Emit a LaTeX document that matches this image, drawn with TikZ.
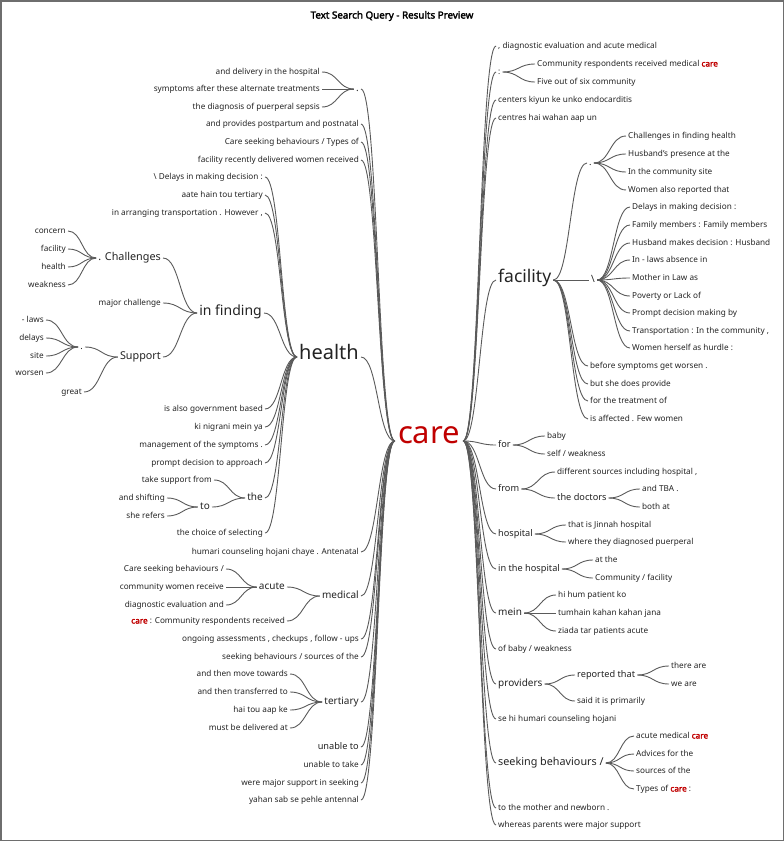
\documentclass[tikz,border=0pt]{standalone}
\usepackage{fontspec}
\setmainfont{Noto Sans}[AutoFakeBold=2.5]
\usetikzlibrary{calc}

\definecolor{linegray}{RGB}{90,90,90}
\definecolor{txtgray}{RGB}{35,35,35}
\definecolor{carered}{RGB}{192,0,0}
\definecolor{framegray}{RGB}{110,110,110}

\newcommand{\hit}{\textcolor{carered}{\textbf{care}}}

\tikzset{
	wt/.style={inner sep=2pt, text height=.7em, text depth=.2em, text=txtgray},
	leaf/.style={wt, font=\fontsize{8.2}{9}\selectfont},
	w9/.style={wt, font=\fontsize{9.2}{10}\selectfont},
	w10/.style={wt, font=\fontsize{10}{11}\selectfont},
	w11/.style={wt, font=\fontsize{10.8}{12}\selectfont},
	w14/.style={wt, font=\fontsize{14}{16}\selectfont},
	w17/.style={wt, font=\fontsize{17.5}{19}\selectfont},
	w20/.style={wt, font=\fontsize{20}{22}\selectfont},
	root/.style={wt, inner sep=3pt, font=\fontsize{31}{34}\selectfont, text=carered},
	headline/.style={font=\bfseries\fontsize{9.8}{11}\selectfont, text=black},
	link/.style={draw=linegray, line width=.9pt,
		to path={let \p1=(\tikztostart), \p2=(\tikztotarget) in
			.. controls ({(\x1+\x2)/2},\y1) and ({(\x1+\x2)/2},\y2) .. (\tikztotarget)}},
}

\begin{document}
\begin{tikzpicture}[x=1pt, y=-1pt]
	
	\useasboundingbox (0,0) rectangle (784,841);
	\draw[framegray, line width=1.5pt] (0.75,0.75) rectangle (783.25,840.25);
	\node[headline] (head) at (392,16) {Text Search Query - Results Preview};
	
	% root word
	\node[root] (care) at (429,441) {care};
	
	% ---- left of care ----
	\node[w10, anchor=east] (dotA) at (361,89) {.};
	\draw[link] (dotA.east) to (care.west);
	\foreach \y/\t [count=\i] in {72/and delivery in the hospital, 89/symptoms after these alternate treatments, 107/the diagnosis of puerperal sepsis}
	{
		\node[leaf, anchor=east] (dotA\i) at (322,\y) {\t};
		\draw[link] (dotA\i.east) to (dotA.west);
	}
	
	\foreach \y/\t [count=\i] in {124/and provides postpartum and postnatal, 142/{Care seeking behaviours / Types of}, 160/facility recently delivered women received, 552/humari counseling hojani chaye . Antenatal, 639/{ongoing assessments , checkups , follow - ups}, 657/{seeking behaviours / sources of the}, 765/unable to take, 783/were major support in seeking, 800/yahan sab se pehle antennal}
	{
		\node[leaf, anchor=east] (cl\i) at (361,\y) {\t};
		\draw[link] (cl\i.east) to (care.west);
	}
	\node[w9, anchor=east] (unable) at (361,747) {unable to};
	\draw[link] (unable.east) to (care.west);
	
	% health
	\node[w20, anchor=east] (health) at (361,357) {health};
	\draw[link] (health.east) to (care.west);
	\foreach \y/\t [count=\i] in {177/{\textbackslash{} Delays in making decision :}, 195/aate hain tou tertiary, 213/{in arranging transportation . However ,}, 409/is also government based, 427/ki nigrani mein ya, 445/management of the symptoms ., 463/prompt decision to approach, 533/the choice of selecting}
	{
		\node[leaf, anchor=east] (hl\i) at (265,\y) {\t};
		\draw[link] (hl\i.east) to (health.west);
	}
	
	\node[w14, anchor=east] (infind) at (264,313) {in finding};
	\draw[link] (infind.east) to (health.west);
	\node[w11, anchor=east] (chall) at (163,258) {. Challenges};
	\node[leaf, anchor=east] (major) at (163,303) {major challenge};
	\node[w11, anchor=east] (support) at (163,357) {Support};
	\foreach \n in {chall, major, support}
	\draw[link] (\n.east) to (infind.west);
	\foreach \y/\t [count=\i] in {231/concern, 249/facility, 267/health, 285/weakness}
	{
		\node[leaf, anchor=east] (ch\i) at (68,\y) {\t};
		\draw[link] (ch\i.east) to (chall.west);
	}
	\node[w9, anchor=east] (dotB) at (85,347) {.};
	\node[leaf, anchor=east] (great) at (84,392) {great};
	\draw[link] (dotB.east) to (support.west);
	\draw[link] (great.east) to (support.west);
	\foreach \y/\t [count=\i] in {320/- laws, 338/delays, 356/site, 373/worsen}
	{
		\node[leaf, anchor=east] (sp\i) at (46,\y) {\t};
		\draw[link] (sp\i.east) to (dotB.west);
	}
	
	\node[w10, anchor=east] (the) at (265,498) {the};
	\draw[link] (the.east) to (health.west);
	\node[leaf, anchor=east] (takesup) at (214,480) {take support from};
	\node[w10, anchor=east] (wto) at (212,507) {to};
	\draw[link] (takesup.east) to (the.west);
	\draw[link] (wto.east) to (the.west);
	\node[leaf, anchor=east] (shift) at (167,498) {and shifting};
	\node[leaf, anchor=east] (refers) at (167,516) {she refers};
	\draw[link] (shift.east) to (wto.west);
	\draw[link] (refers.east) to (wto.west);
	
	% medical
	\node[w10, anchor=east] (medical) at (361,596) {medical};
	\draw[link] (medical.east) to (care.west);
	\node[w10, anchor=east] (acute) at (287,587) {acute};
	\node[leaf, anchor=east] (crc) at (287,621) {\hit{} : Community respondents received};
	\draw[link] (acute.east) to (medical.west);
	\draw[link] (crc.east) to (medical.west);
	\foreach \y/\t [count=\i] in {569/{Care seeking behaviours /}, 587/community women receive, 605/diagnostic evaluation and}
	{
		\node[leaf, anchor=east] (ac\i) at (226,\y) {\t};
		\draw[link] (ac\i.east) to (acute.west);
	}
	
	% tertiary
	\node[w10, anchor=east] (tertiary) at (361,702) {tertiary};
	\draw[link] (tertiary.east) to (care.west);
	\foreach \y/\t [count=\i] in {674/and then move towards, 692/and then transferred to, 710/hai tou aap ke, 728/must be delivered at}
	{
		\node[leaf, anchor=east] (te\i) at (290,\y) {\t};
		\draw[link] (te\i.east) to (tertiary.west);
	}
	
	% ---- right of care ----
	\foreach \y/\t [count=\i] in {46/{, diagnostic evaluation and acute medical}, 100/centers kiyun ke unko endocarditis, 118/centres hai wahan aap un, 649/{of baby / weakness}, 719/se hi humari counseling hojani, 808/to the mother and newborn ., 825/whereas parents were major support}
	{
		\node[leaf, anchor=west] (cr\i) at (496,\y) {\t};
		\draw[link] (care.east) to (cr\i.west);
	}
	
	\node[leaf, anchor=west] (colon) at (496,72) {:};
	\draw[link] (care.east) to (colon.west);
	\node[leaf, anchor=west] (co1) at (535,64) {Community respondents received medical \hit};
	\node[leaf, anchor=west] (co2) at (535,82) {Five out of six community};
	\draw[link] (colon.east) to (co1.west);
	\draw[link] (colon.east) to (co2.west);
	
	% facility
	\node[w17, anchor=west] (facility) at (496,280) {facility};
	\draw[link] (care.east) to (facility.west);
	\node[w9, anchor=west] (dotC) at (587,163) {.};
	\draw[link] (facility.east) to (dotC.west);
	\foreach \y/\t [count=\i] in {136/Challenges in finding health, 154/Husband's presence at the, 172/In the community site, 190/Women also reported that}
	{
		\node[leaf, anchor=west] (dc\i) at (626,\y) {\t};
		\draw[link] (dotC.east) to (dc\i.west);
	}
	\node[w10, anchor=west] (bslash) at (589,280) {\textbackslash};
	\draw[link] (facility.east) to (bslash.west);
	\foreach \y/\t [count=\i] in {207/Delays in making decision :, 225/Family members : Family members, 243/Husband makes decision : Husband, 260/In - laws absence in, 278/Mother in Law as, 296/Poverty or Lack of, 313/Prompt decision making by, 331/{Transportation : In the community ,}, 348/Women herself as hurdle :}
	{
		\node[leaf, anchor=west] (bs\i) at (630,\y) {\t};
		\draw[link] (bslash.east) to (bs\i.west);
	}
	\foreach \y/\t [count=\i] in {366/before symptoms get worsen ., 384/but she does provide, 401/for the treatment of, 419/is affected . Few women}
	{
		\node[leaf, anchor=west] (fa\i) at (588,\y) {\t};
		\draw[link] (facility.east) to (fa\i.west);
	}
	
	% for, from
	\node[w9, anchor=west] (for) at (496,445) {for};
	\draw[link] (care.east) to (for.west);
	\node[leaf, anchor=west] (baby) at (545,436) {baby};
	\node[leaf, anchor=west] (self) at (545,454) {self / weakness};
	\draw[link] (for.east) to (baby.west);
	\draw[link] (for.east) to (self.west);
	
	\node[w9, anchor=west] (from) at (496,489) {from};
	\draw[link] (care.east) to (from.west);
	\node[leaf, anchor=west] (sources) at (555,472) {different sources including hospital ,};
	\node[w9, anchor=west] (doctors) at (555,498) {the doctors};
	\draw[link] (from.east) to (sources.west);
	\draw[link] (from.east) to (doctors.west);
	\node[leaf, anchor=west] (tba) at (640,489) {and TBA .};
	\node[leaf, anchor=west] (both) at (640,507) {both at};
	\draw[link] (doctors.east) to (tba.west);
	\draw[link] (doctors.east) to (both.west);
	
	% hospital
	\node[w9, anchor=west] (hosp) at (496,534) {hospital};
	\draw[link] (care.east) to (hosp.west);
	\node[leaf, anchor=west] (jinnah) at (566,525) {that is Jinnah hospital};
	\node[leaf, anchor=west] (where) at (566,542) {where they diagnosed puerperal};
	\draw[link] (hosp.east) to (jinnah.west);
	\draw[link] (hosp.east) to (where.west);
	
	\node[w9, anchor=west] (inhosp) at (496,569) {in the hospital};
	\draw[link] (care.east) to (inhosp.west);
	\node[leaf, anchor=west] (atthe) at (593,560) {at the};
	\node[leaf, anchor=west] (commf) at (593,578) {Community / facility};
	\draw[link] (inhosp.east) to (atthe.west);
	\draw[link] (inhosp.east) to (commf.west);
	
	% mein
	\node[w10, anchor=west] (mein) at (496,613) {mein};
	\draw[link] (care.east) to (mein.west);
	\foreach \y/\t [count=\i] in {595/hi hum patient ko, 613/tumhain kahan kahan jana, 631/ziada tar patients acute}
	{
		\node[leaf, anchor=west] (me\i) at (556,\y) {\t};
		\draw[link] (mein.east) to (me\i.west);
	}
	
	% providers
	\node[w10, anchor=west] (providers) at (496,684) {providers};
	\draw[link] (care.east) to (providers.west);
	\node[w9, anchor=west] (reported) at (575,675) {reported that};
	\node[leaf, anchor=west] (said) at (575,701) {said it is primarily};
	\draw[link] (providers.east) to (reported.west);
	\draw[link] (providers.east) to (said.west);
	\node[leaf, anchor=west] (thereare) at (669,666) {there are};
	\node[leaf, anchor=west] (weare) at (669,684) {we are};
	\draw[link] (reported.east) to (thereare.west);
	\draw[link] (reported.east) to (weare.west);
	
	% seeking behaviours
	\node[w11, anchor=west] (seeking) at (496,763) {seeking behaviours /};
	\draw[link] (care.east) to (seeking.west);
	\foreach \y/\t [count=\i] in {736/acute medical \hit, 754/Advices for the, 771/sources of the, 789/Types of \hit{} :}
	{
		\node[leaf, anchor=west] (sb\i) at (634,\y) {\t};
		\draw[link] (seeking.east) to (sb\i.west);
	}
	
\end{tikzpicture}
\end{document}
